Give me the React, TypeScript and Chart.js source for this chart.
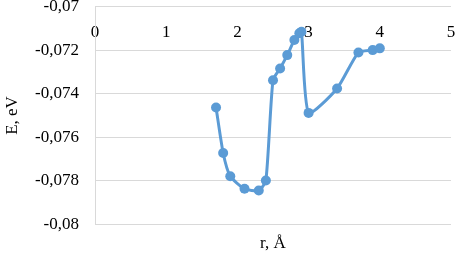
import React, { useEffect, useRef } from "react";
import { Chart, registerables } from "chart.js";

Chart.register(...registerables);

const rValues = [1.7, 1.8, 1.9, 2.1, 2.3, 2.4, 2.5, 2.6, 2.7, 2.8, 2.87, 2.9, 3.0, 3.4, 3.7, 3.9, 4.0];
const eValues = [
  -0.07463, -0.07672, -0.07779, -0.07836, -0.07844, -0.07798, -0.07338, -0.07284, -0.07223,
  -0.07154, -0.07123, -0.07116, -0.07488, -0.07376, -0.07211, -0.072, -0.07192,
];
const xTickLabels = ["0", "1", "2", "3", "4", "5"];
const yTickLabels = ["-0,08", "-0,078", "-0,076", "-0,074", "-0,072", "-0,07"];
const xTitle = "r, Å";
const yTitle = "E, eV";

export default function App() {
  const ref = useRef<HTMLCanvasElement | null>(null);

  useEffect(() => {
    document.body.style.margin = "0";
    const canvas = ref.current;
    if (!canvas) return;
    const font = { family: "'Liberation Serif', 'Times New Roman', serif", size: 17 };
    const chart = new Chart(canvas, {
      type: "scatter",
      data: {
        datasets: [
          {
            data: rValues.map((r, i) => ({ x: r, y: eValues[i] })),
            showLine: true,
            tension: 0.2,
            borderColor: "#5B9BD5",
            backgroundColor: "#5B9BD5",
            borderWidth: 3,
            pointRadius: 5,
            pointBorderWidth: 0,
            xAxisID: "x",
            yAxisID: "y",
          },
        ],
      },
      options: {
        animation: false,
        responsive: true,
        maintainAspectRatio: false,
        layout: { padding: { top: 6.5, right: 3.5, left: 0, bottom: 0 } },
        plugins: { legend: { display: false }, tooltip: { enabled: false } },
        scales: {
          x: {
            type: "linear",
            min: 0,
            max: 5,
            position: { y: -0.07 } as any,
            grid: { display: false, drawTicks: false },
            border: { display: false },
            ticks: {
              stepSize: 1,
              padding: 16,
              color: "#000",
              font,
              maxRotation: 0,
              callback: (_v: any, i: number) => xTickLabels[i],
            },
            afterFit: (s: any) => {
              s.height = 0;
              s.paddingLeft = 0;
              s.paddingRight = 0;
            },
          },
          x2: {
            type: "linear",
            position: "bottom",
            grid: { display: false, drawTicks: false },
            border: { display: false },
            ticks: { display: false },
            title: { display: true, text: xTitle, color: "#000", font, padding: { top: 0, bottom: 1 } },
            afterFit: (s: any) => {
              s.height = 30.5;
            },
          },
          y: {
            type: "linear",
            min: -0.08,
            max: -0.07,
            position: "left",
            grid: { color: "#D9D9D9", lineWidth: 1, drawTicks: false },
            border: { display: true, color: "#D9D9D9", width: 1 },
            ticks: {
              stepSize: 0.002,
              padding: 16,
              color: "#000",
              font,
              callback: (_v: any, i: number) => yTickLabels[i],
            },
            title: { display: true, text: yTitle, color: "#000", font, padding: { top: 2, bottom: 2 } },
            afterFit: (s: any) => {
              s.width = 95;
              s.paddingTop = 0;
              s.paddingBottom = 0;
            },
          },
        },
      },
    });
    return () => chart.destroy();
  }, []);

  return (
    <div style={{ position: "fixed", left: 0, top: 0, width: 456, height: 255 }}>
      <canvas ref={ref} />
    </div>
  );
}
